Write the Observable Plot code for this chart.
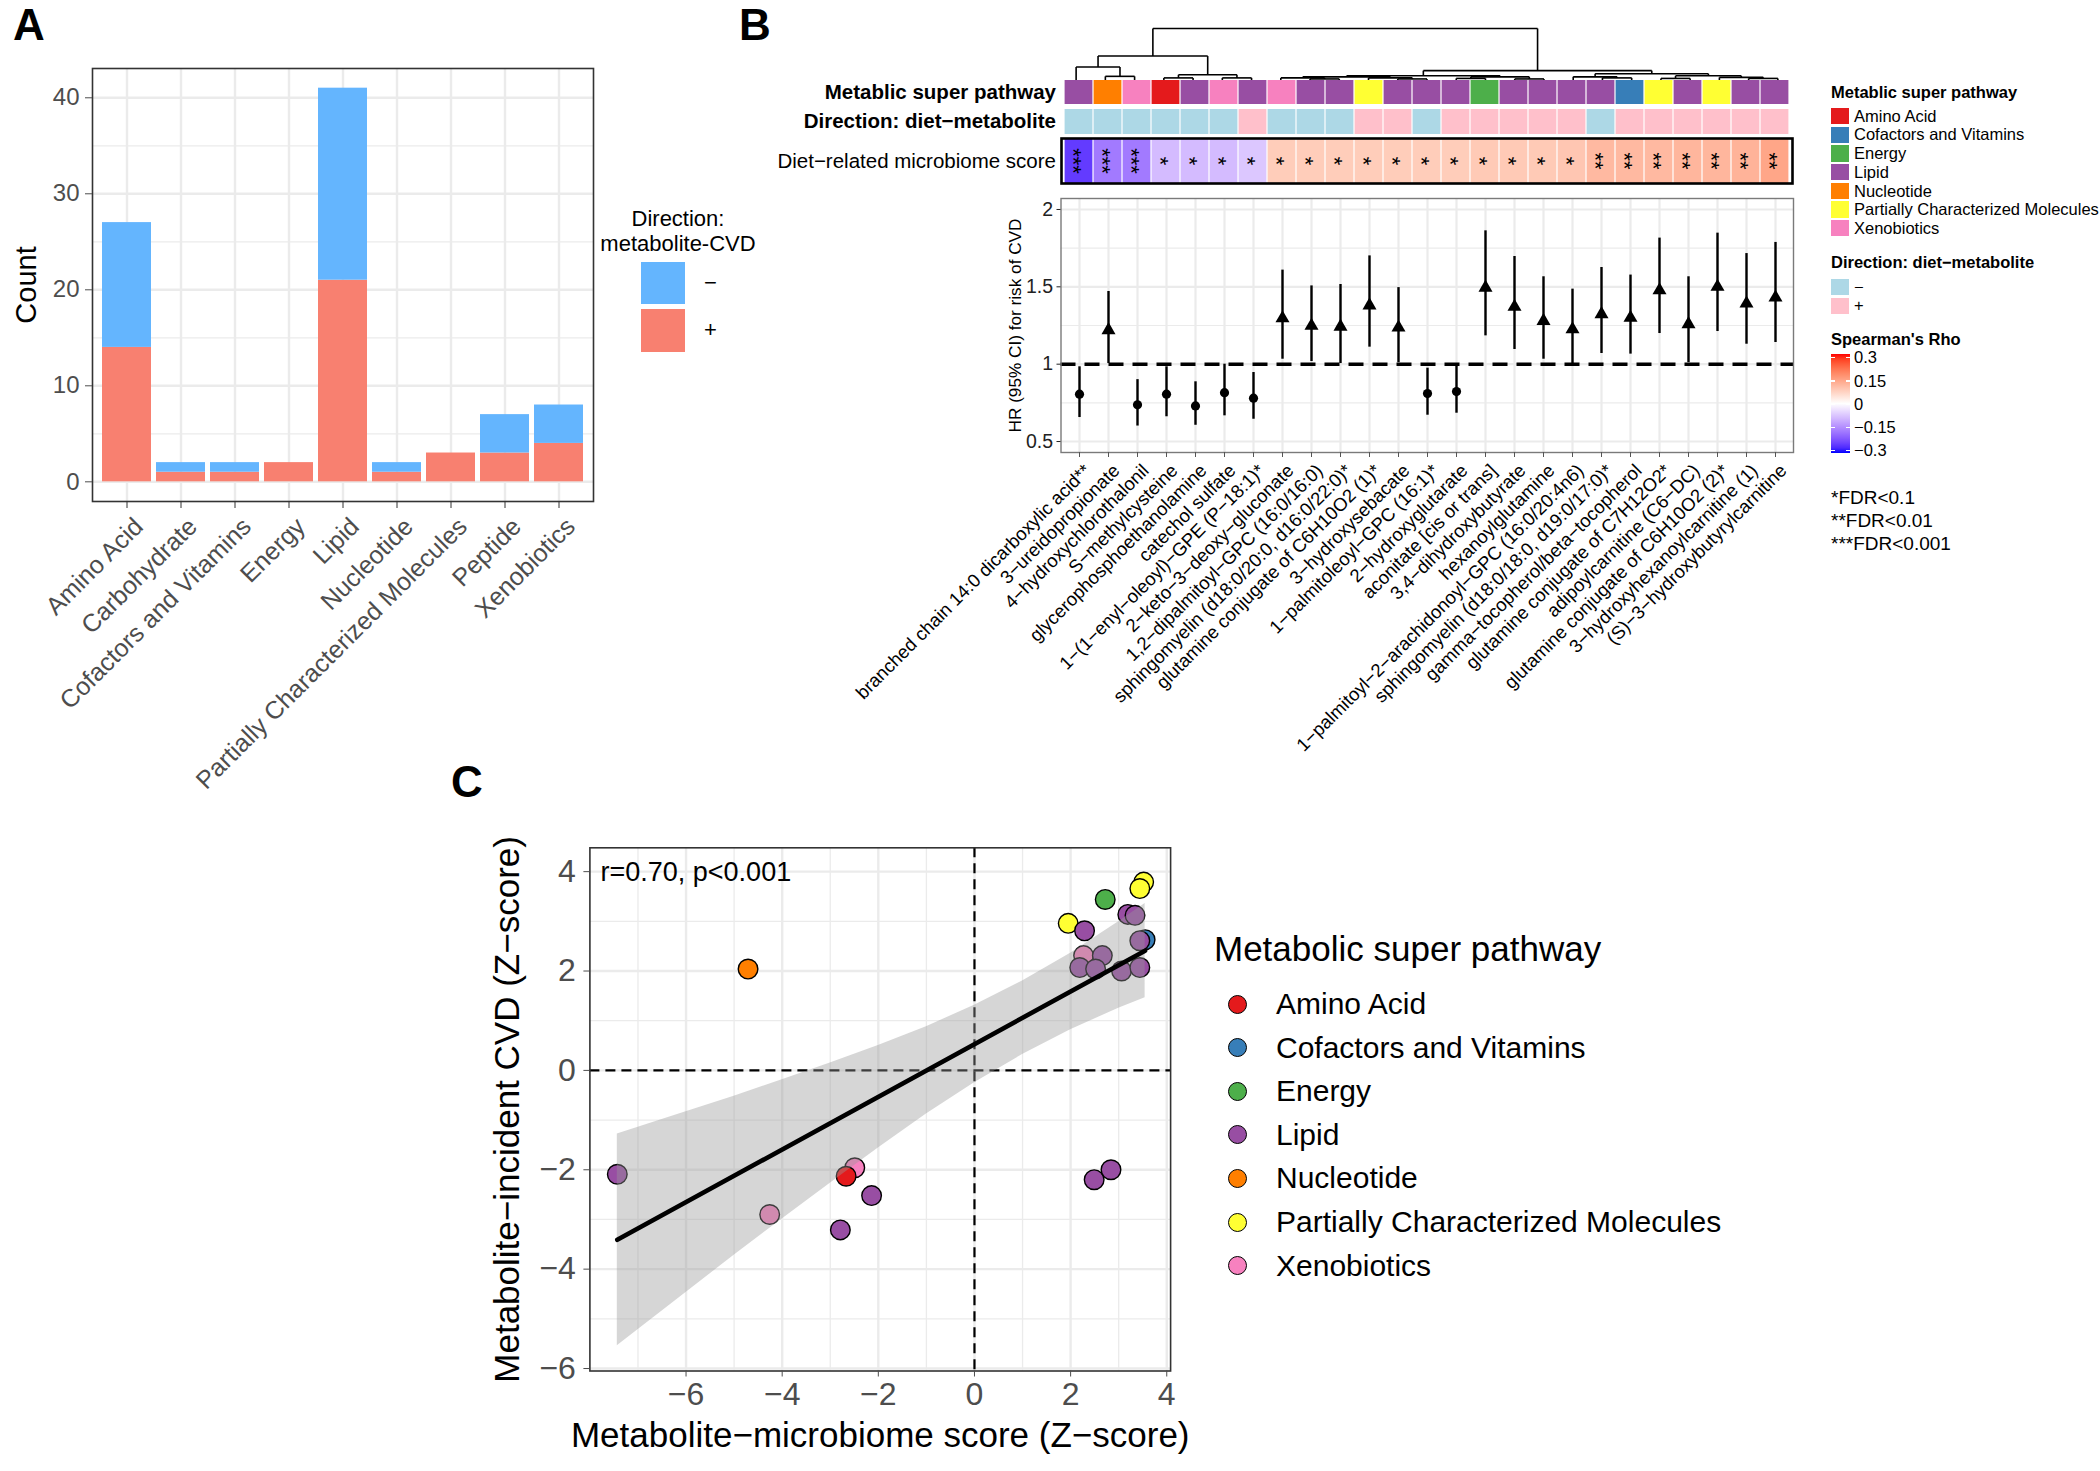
<!DOCTYPE html>
<html>
<head>
<meta charset="utf-8">
<script src="https://cdn.jsdelivr.net/npm/d3@7"></script>
<script src="https://cdn.jsdelivr.net/npm/@observablehq/plot@0.6"></script>
<style>
  html, body { margin: 0; padding: 0; background: #fff; }
  #root { position: relative; width: 2100px; height: 1471px; overflow: hidden; background: #fff;
          font-family: "Liberation Sans", Arial, Helvetica, sans-serif; color: #000; }
  .t { position: absolute; line-height: 1; white-space: nowrap; }
  .sw { position: absolute; }
</style>
</head>
<body>
<div id="root"></div>
<script>
// ================= DATA =================
// ---- Panel A: counts per super pathway, split by metabolite-CVD direction
const superPathways = ["Amino Acid", "Carbohydrate", "Cofactors and Vitamins", "Energy", "Lipid",
  "Nucleotide", "Partially Characterized Molecules", "Peptide", "Xenobiotics"];
const countPlus  = [14, 1, 1, 2, 21, 1, 3, 3, 4];
const countMinus = [13, 1, 1, 0, 20, 1, 0, 4, 4];
const directionCVD = ["−", "+"];
const countTicks = [0, 10, 20, 30, 40];
const countMinorTicks = [5, 15, 25, 35];

// ---- Panel B: metabolites (column order of heatmap)
const metabolites = [
  "branched chain 14:0 dicarboxylic acid**",
  "3−ureidopropionate",
  "4−hydroxychlorothalonil",
  "S−methylcysteine",
  "glycerophosphoethanolamine",
  "catechol sulfate",
  "1−(1−enyl−oleoyl)−GPE (P−18:1)*",
  "2−keto−3−deoxy−gluconate",
  "1,2−dipalmitoyl−GPC (16:0/16:0)",
  "sphingomyelin (d18:0/20:0, d16:0/22:0)*",
  "glutamine conjugate of C6H10O2 (1)*",
  "3−hydroxysebacate",
  "1−palmitoleoyl−GPC (16:1)*",
  "2−hydroxyglutarate",
  "aconitate [cis or trans]",
  "3,4−dihydroxybutyrate",
  "hexanoylglutamine",
  "1−palmitoyl−2−arachidonoyl−GPC (16:0/20:4n6)",
  "sphingomyelin (d18:0/18:0, d19:0/17:0)*",
  "gamma−tocopherol/beta−tocopherol",
  "glutamine conjugate of C7H12O2*",
  "adipoylcarnitine (C6−DC)",
  "glutamine conjugate of C6H10O2 (2)*",
  "3−hydroxyhexanoylcarnitine (1)",
  "(S)−3−hydroxybutyrylcarnitine"
];
const metPathway = ["Lipid", "Nucleotide", "Xenobiotics", "Amino Acid", "Lipid", "Xenobiotics", "Lipid",
  "Xenobiotics", "Lipid", "Lipid", "Partially Characterized Molecules", "Lipid", "Lipid", "Lipid", "Energy",
  "Lipid", "Lipid", "Lipid", "Lipid", "Cofactors and Vitamins", "Partially Characterized Molecules", "Lipid",
  "Partially Characterized Molecules", "Lipid", "Lipid"];
const dietDirection = ["−", "−", "−", "−", "−", "−", "+", "−", "−", "−", "+", "+", "−", "+", "+", "+", "+", "+",
  "−", "+", "+", "+", "+", "+", "+"];
const spearmanRho = [-0.25, -0.17, -0.17, -0.085, -0.085, -0.085, -0.07, 0.08, 0.08, 0.08, 0.08, 0.08, 0.08,
  0.08, 0.085, 0.085, 0.085, 0.09, 0.11, 0.11, 0.11, 0.115, 0.115, 0.12, 0.14];
const fdrStars = ["***", "***", "***", "*", "*", "*", "*", "*", "*", "*", "*", "*", "*", "*", "*", "*", "*", "*",
  "**", "**", "**", "**", "**", "**", "**"];
const hrEstimate = [0.806, 1.22, 0.737, 0.806, 0.73, 0.816, 0.78, 1.297, 1.248, 1.243, 1.38, 1.237, 0.81,
  0.823, 1.495, 1.371, 1.28, 1.226, 1.323, 1.30, 1.478, 1.259, 1.50, 1.392, 1.431];
const hrLower = [0.655, 1.004, 0.60, 0.66, 0.605, 0.666, 0.644, 1.032, 1.017, 1.004, 1.11, 1.01, 0.67,
  0.683, 1.183, 1.095, 1.032, 1.0, 1.069, 1.065, 1.198, 1.01, 1.211, 1.129, 1.14];
const hrUpper = [0.983, 1.47, 0.90, 0.983, 0.886, 1.0, 0.946, 1.608, 1.506, 1.515, 1.70, 1.495, 0.974,
  0.994, 1.862, 1.696, 1.565, 1.485, 1.625, 1.576, 1.815, 1.565, 1.847, 1.715, 1.787];
const hrTicks = [0.5, 1, 1.5, 2];
const hrMinorTicks = [0.75, 1.25, 1.75];
const hrReference = [1];
const rhoTicks = [0.3, 0.15, 0, -0.15, -0.3];
const fdrNotes = ["*FDR<0.1", "**FDR<0.01", "***FDR<0.001"];
// dendrogram merges (leaf = column number, node = id), with merge heights (root = 1)
const dendroMerges = [
  {id: "m1", left: 2, right: 3, h: 0.08},
  {id: "m2", left: 1, right: "m1", h: 0.26},
  {id: "m3", left: 4, right: 5, h: 0.05},
  {id: "m4", left: 6, right: 7, h: 0.05},
  {id: "m5", left: "m3", right: "m4", h: 0.11},
  {id: "m6", left: "m2", right: "m5", h: 0.47},
  {id: "m7", left: 9, right: 10, h: 0.03},
  {id: "m8", left: 8, right: "m7", h: 0.05},
  {id: "m9", left: 12, right: 13, h: 0.03},
  {id: "m10", left: 11, right: "m9", h: 0.05},
  {id: "m11", left: "m8", right: "m10", h: 0.07},
  {id: "m12", left: 14, right: 15, h: 0.04},
  {id: "m13", left: 16, right: 17, h: 0.03},
  {id: "m14", left: "m12", right: "m13", h: 0.07},
  {id: "m15", left: "m11", right: "m14", h: 0.09},
  {id: "m16", left: 19, right: 20, h: 0.05},
  {id: "m17", left: 18, right: "m16", h: 0.07},
  {id: "m18", left: 21, right: 22, h: 0.04},
  {id: "m19", left: 24, right: 25, h: 0.04},
  {id: "m20", left: 23, right: "m19", h: 0.06},
  {id: "m21", left: "m18", right: "m20", h: 0.09},
  {id: "m22", left: "m17", right: "m21", h: 0.13},
  {id: "m23", left: "m15", right: "m22", h: 0.19},
  {id: "m24", left: "m6", right: "m23", h: 1.0}
];

// ---- Panel C
const pathwayLevels = ["Amino Acid", "Cofactors and Vitamins", "Energy", "Lipid", "Nucleotide",
  "Partially Characterized Molecules", "Xenobiotics"];
const scoreX = [-4.71, -7.43, -4.26, -2.49, -2.67, -2.14, -2.79, 2.49, 2.84, 1.95, 2.29, 2.72, 3.52, 3.44,
  3.19, 3.34, 3.55, 3.44, 2.27, 2.66, 2.19, 2.52, 3.06, 3.44];
const cvdY = [2.04, -2.09, -2.90, -1.96, -2.13, -2.52, -3.21, -2.20, -2.00, 2.96, 2.81, 3.44, 3.79, 3.66,
  3.14, 3.12, 2.63, 2.61, 2.31, 2.31, 2.07, 2.04, 2.00, 2.07];
const pointPathway = ["Nucleotide", "Lipid", "Xenobiotics", "Xenobiotics", "Amino Acid", "Lipid", "Lipid",
  "Lipid", "Lipid", "Partially Characterized Molecules", "Lipid", "Energy", "Partially Characterized Molecules",
  "Partially Characterized Molecules", "Lipid", "Lipid", "Cofactors and Vitamins", "Lipid", "Xenobiotics",
  "Lipid", "Lipid", "Lipid", "Lipid", "Lipid"];
const ribbonX     = [-7.43, -6, -5, -4, -3, -2, -1, 0, 1, 2, 3, 3.55];
const ribbonLower = [-5.54, -4.47, -3.72, -2.99, -2.27, -1.56, -0.88, -0.25, 0.32, 0.82, 1.25, 1.46];
const ribbonUpper = [-1.28, -0.83, -0.52, -0.19, 0.15, 0.50, 0.88, 1.31, 1.80, 2.36, 2.99, 3.36];
const fitX = [-7.43, 3.55];
const fitY = [-3.41, 2.41];
const zTicksX = [-6, -4, -2, 0, 2, 4];
const zMinorX = [-7, -5, -3, -1, 1, 3];
const zTicksY = [-6, -4, -2, 0, 2, 4];
const zMinorY = [-5, -3, -1, 1, 3];
const zeroLine = [0];
const corrLabel = ["r=0.70, p<0.001"];

// ================= STYLE =================
const FONT = '"Liberation Sans", Arial, Helvetica, sans-serif';
const svgStyle = {fontFamily: FONT, background: "transparent", overflow: "visible", maxWidth: "none"};
const cvdColors = ["#64b5fe", "#f88070"];
const pathwayColors = ["#E41A1C", "#377EB8", "#4DAF4A", "#984EA3", "#FF7F00", "#FFFF33", "#F781BF"];
const dietColors = ["#ADD8E6", "#FFC0CB"];
const GRID = "#ebebeb";

const root = document.getElementById("root");
function place(node, left, top) {
  node.style.position = "absolute";
  node.style.left = left + "px";
  node.style.top = top + "px";
  root.appendChild(node);
  return node;
}
function txt(str, o) {
  const d = document.createElement("div");
  d.className = "t";
  d.textContent = str;
  d.style.fontSize = o.fs + "px";
  d.style.fontWeight = o.weight || "normal";
  d.style.color = o.color || "#000";
  d.style.top = (o.yc - 0.5 * o.fs) + "px";
  if (o.align === "right") d.style.right = (2100 - o.x) + "px";
  else if (o.align === "center") { d.style.left = (o.x - 400) + "px"; d.style.width = "800px"; d.style.textAlign = "center"; }
  else d.style.left = o.x + "px";
  root.appendChild(d);
  return d;
}
function sw(x, y, w, h, css) {
  const d = document.createElement("div");
  d.className = "sw";
  Object.assign(d.style, {left: x + "px", top: y + "px", width: w + "px", height: h + "px"}, css);
  root.appendChild(d);
  return d;
}

// ================= PANEL A =================
const barRows = superPathways.flatMap((c, i) => [
  {cat: c, dir: "+", n: countPlus[i]},
  {cat: c, dir: "−", n: countMinus[i]}
]);
const plotA = Plot.plot({
  width: 600, height: 800,
  marginLeft: 92, marginRight: 7, marginTop: 68, marginBottom: 299,
  style: svgStyle,
  x: {domain: superPathways, paddingInner: 0.1, paddingOuter: 0.15, axis: null},
  y: {domain: [-2.05, 43.05], axis: null},
  color: {domain: directionCVD, range: cvdColors},
  marks: [
    Plot.ruleY(countMinorTicks, {stroke: GRID, strokeWidth: 1.3}),
    Plot.ruleY(countTicks, {stroke: GRID, strokeWidth: 2.4}),
    Plot.ruleX(superPathways, {stroke: GRID, strokeWidth: 2.4}),
    Plot.barY(barRows, {x: "cat", y: "n", fill: "dir"}),
    Plot.frame({stroke: "#333", strokeWidth: 1.6}),
    Plot.axisY(countTicks, {tickSize: 7, tickPadding: 6, fontSize: 24, color: "#4d4d4d", label: null}),
    Plot.axisX({tickSize: 7, fill: "none", stroke: "#333", label: null}),
    Plot.text(superPathways, {x: d => d, text: d => d, frameAnchor: "bottom", rotate: -45,
      textAnchor: "end", lineAnchor: "top", dx: 5, dy: 14, fontSize: 25, fill: "#4d4d4d"}),
    Plot.text(["Count"], {frameAnchor: "left", rotate: -90, textAnchor: "middle", lineAnchor: "middle",
      dx: -66, fontSize: 29, fill: "#000"})
  ]
});
place(plotA, 0, 0);

// legend A
txt("Direction:", {x: 678, yc: 218.5, fs: 22, align: "center"});
txt("metabolite-CVD", {x: 678, yc: 244, fs: 22, align: "center"});
sw(641, 262, 44, 42, {background: cvdColors[0]});
sw(641, 309, 44, 43, {background: cvdColors[1]});
txt(directionCVD[0], {x: 704, yc: 283, fs: 22});
txt(directionCVD[1], {x: 704, yc: 330, fs: 22});

// ================= PANEL B =================
const colRows = metabolites.map((m, i) => ({
  m, idx: i + 1, pw: metPathway[i], dir: dietDirection[i], rho: spearmanRho[i], stars: fdrStars[i],
  est: hrEstimate[i], lo: hrLower[i], hi: hrUpper[i]
}));

// dendrogram
const nodePos = {};
metabolites.forEach((m, i) => { nodePos[i + 1] = {x: i + 1, h: 0}; });
const dendroSegs = [];
for (const mg of dendroMerges) {
  const L = nodePos[mg.left], R = nodePos[mg.right];
  nodePos[mg.id] = {x: (L.x + R.x) / 2, h: mg.h};
  dendroSegs.push({x1: L.x, y1: L.h, x2: L.x, y2: mg.h});
  dendroSegs.push({x1: R.x, y1: R.h, x2: R.x, y2: mg.h});
  dendroSegs.push({x1: L.x, y1: mg.h, x2: R.x, y2: mg.h});
}
const plotDendro = Plot.plot({
  width: 731, height: 58, marginTop: 4, marginBottom: 2, marginLeft: 0, marginRight: 0,
  style: svgStyle,
  x: {domain: [0.5, metabolites.length + 0.5], axis: null},
  y: {domain: [0, 1], axis: null},
  marks: [
    Plot.link(dendroSegs, {x1: "x1", y1: "y1", x2: "x2", y2: "y2", stroke: "#000", strokeWidth: 1.6, curve: "linear"})
  ]
});
place(plotDendro, 1061, 24);

function rowPlot(h, fill, colorScale, extra = [], frame = null) {
  return Plot.plot({
    width: 731, height: h, margin: 0,
    style: svgStyle,
    x: {domain: metabolites, padding: 0, axis: null},
    color: colorScale,
    marks: [
      Plot.cell(colRows, {x: "m", fill, insetLeft: 0.6, insetRight: 0.6}),
      ...extra,
      ...(frame ? [frame] : [])
    ]
  });
}
place(rowPlot(24, "pw", {domain: pathwayLevels, range: pathwayColors}), 1061, 80);
place(rowPlot(25, "dir", {domain: ["−", "+"], range: dietColors}), 1061, 109);
const rhoScale = {type: "linear", domain: [-0.3, 0, 0.3], range: ["blue", "white", "red"], interpolate: d3.interpolateLab};
place(rowPlot(45, "rho", rhoScale,
  [Plot.text(colRows, {x: "m", text: "stars", frameAnchor: "middle", rotate: 90, textAnchor: "middle",
    lineAnchor: "middle", fontSize: 22, dx: -5.5, fill: "#000"})],
  Plot.frame({stroke: "#000", strokeWidth: 2.6})), 1061, 138);

// row labels
txt("Metablic super pathway", {x: 1056, yc: 92, fs: 20.5, weight: "bold", align: "right"});
txt("Direction: diet−metabolite", {x: 1056, yc: 121.5, fs: 20.5, weight: "bold", align: "right"});
txt("Diet−related microbiome score", {x: 1056, yc: 161, fs: 20.5, align: "right"});

// HR forest plot
const plotHR = Plot.plot({
  width: 960, height: 610,
  marginLeft: 220.5, marginRight: 7, marginTop: 18, marginBottom: 338,
  style: svgStyle,
  x: {domain: metabolites, paddingInner: 0, paddingOuter: 0.1, axis: null},
  y: {domain: [0.429, 2.071], axis: null},
  marks: [
    Plot.ruleY(hrMinorTicks, {stroke: GRID, strokeWidth: 1.2}),
    Plot.ruleY(hrTicks, {stroke: GRID, strokeWidth: 2.2}),
    Plot.ruleX(metabolites, {stroke: GRID, strokeWidth: 2.2}),
    Plot.ruleY(hrReference, {stroke: "#000", strokeWidth: 3.5, strokeDasharray: "15,9"}),
    Plot.ruleX(colRows, {x: "m", y1: "lo", y2: "hi", stroke: "#000", strokeWidth: 2.4}),
    Plot.dot(colRows.filter(d => d.est < 1), {x: "m", y: "est", r: 4.6, fill: "#000", symbol: "circle"}),
    Plot.dot(colRows.filter(d => d.est >= 1), {x: "m", y: "est", r: 5.2, fill: "#000", symbol: "triangle"}),
    Plot.frame({stroke: "#7a7a7a", strokeWidth: 1.4}),
    Plot.axisY(hrTicks, {tickSize: 4, tickPadding: 4, fontSize: 19.5, color: "#222", tickFormat: d => String(d), label: null}),
    Plot.axisX({tickSize: 5, fill: "none", stroke: "#555", label: null}),
    Plot.text(metabolites, {x: d => d, text: d => d, frameAnchor: "bottom", rotate: -45,
      textAnchor: "end", lineAnchor: "top", dx: 3, dy: 10, fontSize: 18.5, fill: "#000"}),
    Plot.text(["HR (95% CI) for risk of CVD"], {frameAnchor: "left", rotate: -90, textAnchor: "middle",
      lineAnchor: "middle", dx: -46, fontSize: 17.2, fill: "#000"})
  ]
});
place(plotHR, 840, 180);

// Legends B
txt("Metablic super pathway", {x: 1831, yc: 92, fs: 16.5, weight: "bold"});
pathwayLevels.forEach((p, k) => {
  const yc = 116 + 18.7 * k;
  sw(1831, yc - 8.2, 17.5, 16.4, {background: pathwayColors[k]});
  txt(p, {x: 1854, yc, fs: 16.5});
});
txt("Direction: diet−metabolite", {x: 1831, yc: 262, fs: 16.5, weight: "bold"});
["−", "+"].forEach((p, k) => {
  const yc = 287 + 18.7 * k;
  sw(1831, yc - 8.2, 17.5, 16.4, {background: dietColors[k]});
  txt(p, {x: 1854, yc, fs: 16.5});
});
txt("Spearman's Rho", {x: 1831, yc: 339, fs: 16.5, weight: "bold"});
{
  const c = d3.scaleLinear().domain([-0.3, 0, 0.3]).range(["blue", "white", "red"]).interpolate(d3.interpolateLab);
  const stops = d3.range(0, 21).map(i => { const v = 0.3 - i * 0.03; return `${c(v)} ${(i * 5)}%`; }).join(",");
  sw(1831, 354, 19, 99, {background: `linear-gradient(to bottom, ${stops})`});
  rhoTicks.forEach(v => {
    const yc = 404 - v / 0.3 * 46.5;
    sw(1831, yc - 0.75, 4, 1.5, {background: "#fff"});
    sw(1846, yc - 0.75, 4, 1.5, {background: "#fff"});
    txt(v < 0 ? "−" + String(-v) : String(v), {x: 1854, yc, fs: 16.5});
  });
}
fdrNotes.forEach((s, k) => txt(s, {x: 1831, yc: 497 + 23 * k, fs: 19}));

// ================= PANEL C =================
const pts = scoreX.map((x, i) => ({x, y: cvdY[i], pw: pointPathway[i]}));
const ribbon = ribbonX.map((x, i) => ({x, lo: ribbonLower[i], hi: ribbonUpper[i]}));
const fit = fitX.map((x, i) => ({x, y: fitY[i]}));
const fmt = d3.format("d");
const plotC = Plot.plot({
  width: 760, height: 671,
  marginLeft: 149.4, marginRight: 29.9, marginTop: 47.3, marginBottom: 100.5,
  style: svgStyle,
  x: {domain: [-8.0, 4.08], axis: null},
  y: {domain: [-6.05, 4.48], axis: null},
  color: {domain: pathwayLevels, range: pathwayColors},
  marks: [
    Plot.ruleX(zMinorX, {stroke: GRID, strokeWidth: 1.3}),
    Plot.ruleY(zMinorY, {stroke: GRID, strokeWidth: 1.3}),
    Plot.ruleX(zTicksX, {stroke: GRID, strokeWidth: 2.4}),
    Plot.ruleY(zTicksY, {stroke: GRID, strokeWidth: 2.4}),
    Plot.ruleX(zeroLine, {stroke: "#000", strokeWidth: 2.2, strokeDasharray: "10,6"}),
    Plot.ruleY(zeroLine, {stroke: "#000", strokeWidth: 2.2, strokeDasharray: "10,6"}),
    Plot.dot(pts, {x: "x", y: "y", fill: "pw", stroke: "#000", strokeWidth: 1.4, r: 9.8}),
    Plot.areaY(ribbon, {x: "x", y1: "lo", y2: "hi", fill: "#999999", fillOpacity: 0.4}),
    Plot.line(fit, {x: "x", y: "y", stroke: "#000", strokeWidth: 4.6}),
    Plot.text(corrLabel, {frameAnchor: "top-left", textAnchor: "start", lineAnchor: "middle", dx: 10.6, dy: 24.4,
      fontSize: 27, fill: "#000"}),
    Plot.frame({stroke: "#333", strokeWidth: 1.6}),
    Plot.axisX(zTicksX, {tickSize: 6, tickPadding: 5, fontSize: 32, color: "#4d4d4d", tickFormat: fmt, label: null}),
    Plot.axisY(zTicksY, {tickSize: 6, tickPadding: 8, fontSize: 32, color: "#4d4d4d", tickFormat: fmt, label: null}),
    Plot.text(["Metabolite−microbiome score (Z−score)"], {frameAnchor: "bottom", textAnchor: "middle",
      lineAnchor: "middle", dy: 64.5, fontSize: 35, fill: "#000"}),
    Plot.text(["Metabolite−incident CVD (Z−score)"], {frameAnchor: "left", rotate: -90, textAnchor: "middle",
      lineAnchor: "middle", dx: -82.4, fontSize: 35, fill: "#000"})
  ]
});
place(plotC, 440, 800);

// legend C
txt("Metabolic super pathway", {x: 1214, yc: 948, fs: 35});
pathwayLevels.forEach((p, k) => {
  const yc = 1004 + 43.6 * k;
  sw(1227.5, yc - 9.5, 19, 19, {background: pathwayColors[k], border: "1.5px solid #000", borderRadius: "50%", boxSizing: "border-box"});
  txt(p, {x: 1276, yc, fs: 30});
});

// panel letters
txt("A", {x: 13, yc: 25, fs: 44, weight: "bold"});
txt("B", {x: 739, yc: 25, fs: 44, weight: "bold"});
txt("C", {x: 451, yc: 782, fs: 44, weight: "bold"});
</script>
</body>
</html>
